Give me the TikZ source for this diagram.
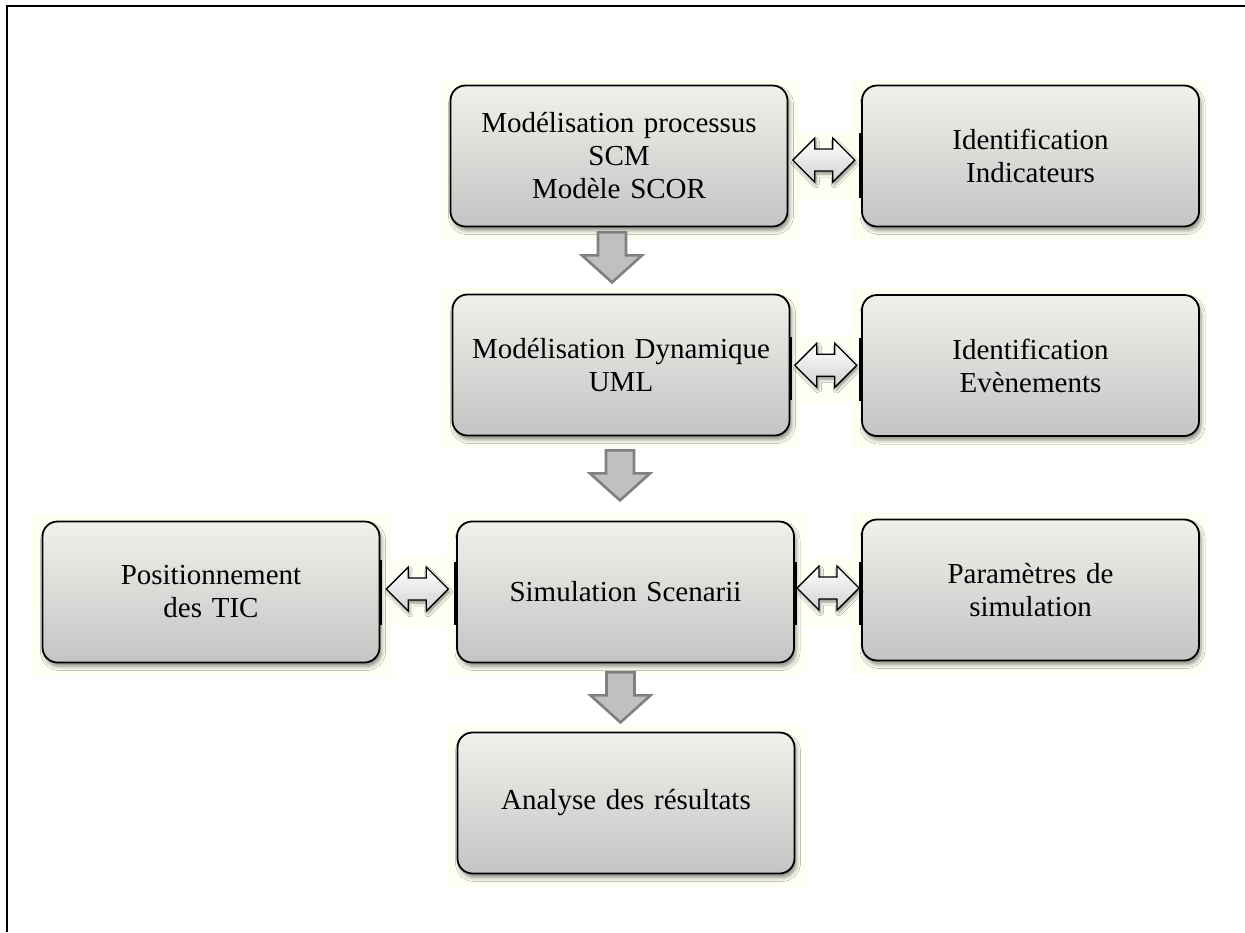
\documentclass[tikz,border=0pt]{standalone}
\usepackage{fontspec}
\setmainfont{Liberation Serif}
\usetikzlibrary{calc,shadows.blur}
\definecolor{cream}{RGB}{255,254,243}
\definecolor{boxtop}{RGB}{241,240,235}
\definecolor{boxbot}{RGB}{196,196,196}
\definecolor{arrfill}{RGB}{192,192,192}
\definecolor{arrline}{RGB}{128,128,128}
\tikzset{
  box/.style={draw=black, line width=1.8pt, rounded corners=15pt,
    top color=boxtop, bottom color=boxbot,
    minimum width=337pt, minimum height=141pt, inner sep=0pt,
    text width=330pt, align=center,
    font=\fontsize{29}{33}\selectfont,
    blur shadow={shadow xshift=2pt, shadow yshift=-4pt, shadow blur radius=4pt, shadow opacity=45}},
  bg/.style={fill=cream, draw=none},
  bar/.style={line width=3.6pt, line cap=butt},
  downarr/.pic={\draw[draw=arrline, fill=arrfill, line width=2.6pt, line join=miter]
      (-14,0) -- (14,0) -- (14,23) -- (30,23) -- (0,50) -- (-30,23) -- (-14,23) -- cycle;},
  dblarr/.pic={\draw[draw=black, line width=1.4pt, line join=miter, top color=white, bottom color={rgb,255:red,210;green,210;blue,210},
      blur shadow={shadow xshift=1.5pt, shadow yshift=-3pt, shadow blur radius=3pt, shadow opacity=45}]
      (-31,0) -- (-9,-22) -- (-9,-11) -- (9,-11) -- (9,-22) -- (31,0) -- (9,22) -- (9,11) -- (-9,11) -- (-9,22) -- cycle;}
}
\begin{document}
\begin{tikzpicture}[x=1pt,y=-1pt]
\useasboundingbox (0,0) rectangle (1245,932);
\fill[white] (0,0) rectangle (1245,932);
% cream backgrounds
\fill[bg] (440,80) rectangle (799,240);
\fill[bg] (852,80) rectangle (1209,240);
\fill[bg] (440,288) rectangle (801,449);
\fill[bg] (852,288) rectangle (1209,449);
\fill[bg] (31,514) rectangle (391,676);
\fill[bg] (446,512) rectangle (805,676);
\fill[bg] (852,512) rectangle (1209,674);
\fill[bg] (446,726) rectangle (806,887);
\fill[bg] (380,558) rectangle (458,627);
\fill[bg] (788,131) rectangle (864,200);
\fill[bg] (790,335) rectangle (864,402);
\fill[bg] (794,558) rectangle (864,627);
% frame
\draw[line width=2pt] (7,932) -- (7,6) -- (1245,6);
% boxes
\node[box] (A) at (619,156) {Modélisation processus\\SCM\\Modèle SCOR};
\node[box] (B) at (1030.5,156) {Identification\\Indicateurs};
\node[box] (C) at (621,365) {Modélisation Dynamique\\UML};
\node[box] (D) at (1030.5,365.5) {Identification\\Evènements};
\node[box] (E) at (211,592) {Positionnement\\des TIC};
\node[box] (F) at (625.5,592) {Simulation Scenarii};
\node[box] (G) at (1030.5,590) {Paramètres de\\simulation};
\node[box] (H) at (626,803) {Analyse des résultats};
% thick edge bars
\draw[bar] ($(B.west)+(0,-23)$) -- ($(B.west)+(0,42)$);
\draw[bar] ($(C.east)+(0,-28)$) -- ($(C.east)+(0,35)$);
\draw[bar] ($(D.west)+(0,-28)$) -- ($(D.west)+(0,35)$);
\draw[bar] ($(E.east)+(0,-32)$) -- ($(E.east)+(0,33)$);
\draw[bar] ($(F.west)+(0,-30)$) -- ($(F.west)+(0,33)$);
\draw[bar] ($(F.east)+(0,-30)$) -- ($(F.east)+(0,33)$);
\draw[bar] ($(G.west)+(0,-28)$) -- ($(G.west)+(0,35)$);
% down arrows
\pic at ($(A.south)+(-7,5)$) {downarr};
\pic at ($(C.south)+(-1,14)$) {downarr};
\pic at ($(F.south)+(-5,9)$) {downarr};
% double arrows
\pic at ($(A.east)!0.5!(B.west)+(-1,4)$) {dblarr};
\pic at ($(C.east)!0.5!(D.west)+(0,0)$) {dblarr};
\pic at ($(E.east)!0.5!(F.west)+(-1,-3)$) {dblarr};
\pic at ($(F.east)!0.5!(G.west)+(0,-3)$) {dblarr};
\end{tikzpicture}
\end{document}
